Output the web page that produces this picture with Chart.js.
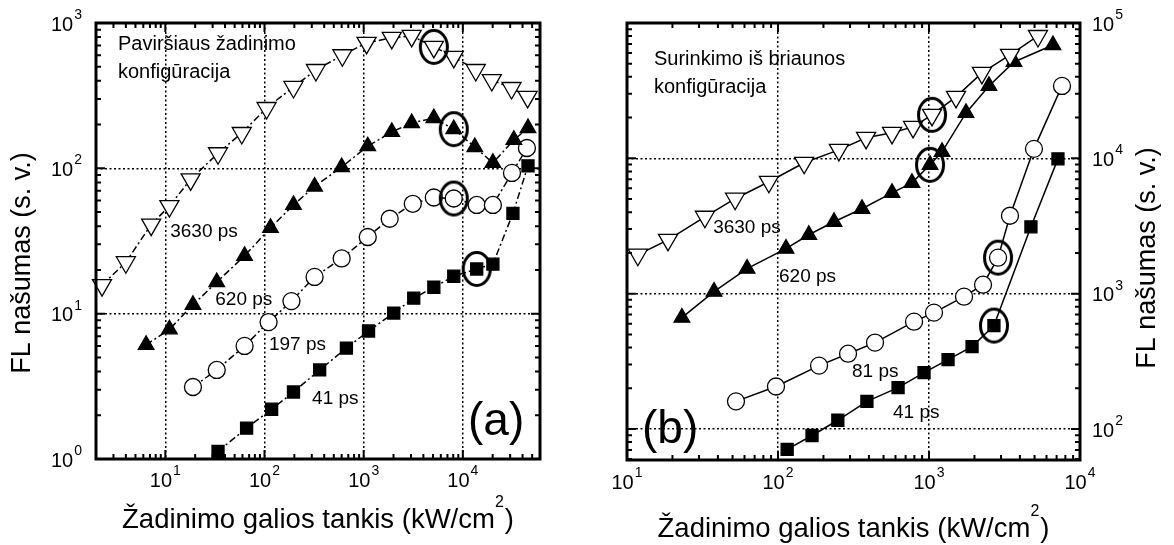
<!DOCTYPE html>
<html>
<head>
<meta charset="utf-8">
<script src="https://cdn.jsdelivr.net/npm/chart.js@4.4.1/dist/chart.umd.min.js"></script>
<style>
  html, body { margin: 0; padding: 0; background: #fff; }
  #wrap { position: relative; width: 1174px; height: 545px; }
  #wrap canvas { position: absolute; left: 0; top: 0; }
</style>
</head>
<body>
<div id="wrap">
  <canvas id="chartA" width="1174" height="545"></canvas>
  <canvas id="chartB" width="1174" height="545"></canvas>
</div>
<script>
// (a) surface excitation – x: excitation power density (kW/cm2), y: FL yield (a.u.)
const a3630x = [2.3, 4.0, 7.2, 11, 18, 34, 59, 105, 196, 330, 610, 1070, 1920, 3050, 5100, 8100, 13500, 19600, 31000, 45000];
const a3630y = [15.7, 22.6, 41, 55, 84, 127, 175, 260, 363, 475, 600, 730, 790, 815, 685, 585, 475, 405, 357, 310];
const a620x  = [6.4, 11, 19, 33, 63, 115, 196, 320, 600, 1100, 1920, 3050, 5100, 8100, 13200, 20100, 32700, 45400];
const a620y  = [6.1, 7.8, 11.5, 16.5, 25, 39, 56, 75, 102, 142, 178, 205, 222, 186, 140, 109, 157, 189];
const a197x  = [19, 33, 63, 110, 187, 320, 600, 1100, 1830, 3130, 5100, 8100, 13800, 20100, 31300, 44300];
const a197y  = [3.13, 4.1, 6.0, 8.75, 12.2, 17.9, 24, 33.7, 45, 57, 63, 62, 56, 56, 93, 138];
const a41x   = [34, 66, 118, 196, 360, 670, 1120, 2010, 3200, 5100, 8100, 13800, 20100, 32000, 45400];
const a41y   = [1.13, 1.63, 2.2, 2.89, 4.1, 5.8, 7.6, 10.1, 12.8, 15.2, 18.1, 20.3, 21.9, 49, 104];
const aMarked = { t3630: 14, t620: 13, t197: 11, t41: 11 };   // circled points

// (b) edge collection
const b3630x = [11.8, 18.7, 32.8, 52, 87, 149, 253, 383, 569, 784, 1047, 1510, 2240, 3440, 5270];
const b3630y = [1940, 2500, 3700, 5030, 6710, 9270, 11550, 14170, 15430, 17080, 20960, 28440, 42760, 58070, 80170];
const b620x  = [23.1, 37.7, 62.4, 113, 160, 235, 360, 569, 771, 1016, 1220, 1758, 2495, 3655, 6620];
const b620y  = [665, 1035, 1530, 2150, 2725, 3400, 4240, 5560, 6590, 8950, 11170, 21660, 34290, 51550, 68800];
const b81x   = [52.7, 97, 187, 291, 439, 796, 1079, 1706, 2279, 2866, 3438, 4955, 7600];
const b81y   = [160, 206, 294, 360, 435, 621, 724, 950, 1165, 1845, 3765, 11750, 34290];
const b41x   = [115, 168, 249, 388, 624, 927, 1337, 1928, 2692, 4732, 7145];
const b41y   = [70.6, 89.5, 116, 160, 202, 261, 326, 406, 581, 3120, 9910];
const bMarked = { t3630: 10, t620: 9, t81: 9, t41: 8 };

const FONT = "'Liberation Sans', Arial, sans-serif";
const xTitle = 'Žadinimo galios tankis (kW/cm';
const yTitle = 'FL našumas (s. v.)';

// ellipse used as point style for the circled points
const ring = document.createElement('canvas');
ring.width = 32; ring.height = 38;
(function () {
  const c = ring.getContext('2d');
  c.lineWidth = 3;
  c.strokeStyle = '#000';
  c.beginPath();
  c.ellipse(16, 19, 13.5, 16.5, 0, 0, Math.PI * 2);
  c.stroke();
})();

const pts = (xs, ys) => xs.map((v, i) => ({ x: v, y: ys[i] }));

const DOWN = { shape: 'triangle', rot: 180, r: 11, fill: '#fff' };
const UP   = { shape: 'triangle', rot: 0, r: 9, fill: '#000' };
const CIRC = { shape: 'circle', rot: 0, r: 8.5, fill: '#fff' };
const SQR  = { shape: 'rect', rot: 0, r: 8.5, fill: '#000' };

function series(xs, ys, st, dash) {
  return {
    data: pts(xs, ys),
    showLine: true,
    borderColor: '#000',
    borderWidth: 1.5,
    borderDash: dash,
    pointStyle: st.shape,
    rotation: st.rot,
    pointRadius: st.r,
    pointBackgroundColor: st.fill,
    pointBorderColor: '#000',
    pointBorderWidth: 1.3,
    clip: false
  };
}

function rings(list) {
  return { data: list, showLine: false, pointStyle: ring, pointRadius: 15, clip: false };
}

function decadeTicks(axis) {
  const lo = Math.ceil(Math.log10(axis.min) - 1e-9), hi = Math.floor(Math.log10(axis.max) + 1e-9);
  const t = [];
  for (let k = lo; k <= hi; k++) t.push({ value: Math.pow(10, k) });
  axis.ticks = t;
}

function logAxis(min, max) {
  return {
    type: 'logarithmic', min, max,
    afterBuildTicks: decadeTicks,
    afterFit: s => { if (s.isHorizontal()) s.height = 0; else s.width = 0; },
    ticks: { display: false },
    grid: { color: '#000', lineWidth: 1.5, drawTicks: false },
    border: { display: false, dash: [2, 2.5] }
  };
}

function eachLogTick(s, fn) {
  const lo = Math.floor(Math.log10(s.min)), hi = Math.ceil(Math.log10(s.max));
  for (let k = lo; k <= hi; k++) {
    for (let m = 1; m <= 9; m++) {
      const v = m * Math.pow(10, k);
      if (v >= s.min * 0.9999 && v <= s.max * 1.0001) fn(v, m === 1, k);
    }
  }
}

function drawPow(ctx, e, x, y, align) {
  ctx.font = `20px ${FONT}`;
  const wb = ctx.measureText('10').width;
  ctx.font = `14px ${FONT}`;
  const ws = ctx.measureText(String(e)).width;
  const tot = wb + ws + 1;
  const left = align === 'right' ? x - tot : align === 'center' ? x - tot / 2 : x;
  ctx.textAlign = 'left';
  ctx.textBaseline = 'middle';
  ctx.font = `20px ${FONT}`;
  ctx.fillText('10', left, y);
  ctx.textBaseline = 'alphabetic';
  ctx.font = `14px ${FONT}`;
  ctx.fillText(String(e), left + wb + 1, y - 6);
}

const framePlugin = {
  id: 'frame',
  afterDraw(chart, args, o) {
    const { ctx, chartArea: ca, scales: { x, y } } = chart;
    ctx.save();
    ctx.strokeStyle = '#000';
    ctx.fillStyle = '#000';
    ctx.lineWidth = 2;
    ctx.beginPath();
    eachLogTick(x, (v, major) => {
      const px = x.getPixelForValue(v), len = major ? 9 : 5;
      ctx.moveTo(px, ca.bottom); ctx.lineTo(px, ca.bottom - len);
      ctx.moveTo(px, ca.top); ctx.lineTo(px, ca.top + len);
    });
    eachLogTick(y, (v, major) => {
      const py = y.getPixelForValue(v), len = major ? 9 : 5;
      ctx.moveTo(ca.left, py); ctx.lineTo(ca.left + len, py);
      ctx.moveTo(ca.right, py); ctx.lineTo(ca.right - len, py);
    });
    ctx.stroke();
    ctx.lineWidth = 3;
    ctx.strokeRect(ca.left, ca.top, ca.width, ca.height);

    // tick labels
    eachLogTick(x, (v, major, k) => {
      if (major) drawPow(ctx, k, x.getPixelForValue(v), ca.bottom + o.xLabelGap, 'center');
    });
    eachLogTick(y, (v, major, k) => {
      if (!major) return;
      const py = y.getPixelForValue(v) + 2;
      if (o.right) drawPow(ctx, k, ca.right + 12, py, 'left');
      else drawPow(ctx, k, ca.left - 14, py, 'right');
    });

    // x title with superscript 2
    ctx.textBaseline = 'alphabetic';
    ctx.textAlign = 'left';
    ctx.font = `27.5px ${FONT}`;
    const w1 = ctx.measureText(xTitle).width, w3 = ctx.measureText(')').width;
    ctx.font = `16px ${FONT}`;
    const w2 = ctx.measureText('2').width;
    let tx = (ca.left + ca.right) / 2 - (w1 + w2 + w3 + 1) / 2;
    const ty = ca.bottom + o.xTitleGap;
    ctx.font = `27.5px ${FONT}`;
    ctx.fillText(xTitle, tx, ty);
    ctx.font = `16px ${FONT}`;
    ctx.fillText('2', tx + w1, ty - 21);
    ctx.font = `27.5px ${FONT}`;
    ctx.fillText(')', tx + w1 + w2 + 1, ty);

    // y title, rotated
    ctx.save();
    ctx.translate(o.yTitleX, o.yTitleY);
    ctx.rotate(-Math.PI / 2);
    ctx.textAlign = 'center';
    ctx.textBaseline = 'middle';
    ctx.font = `27px ${FONT}`;
    ctx.fillText(yTitle, 0, 0);
    ctx.restore();

    // panel heading and letter
    ctx.textAlign = 'left';
    ctx.textBaseline = 'alphabetic';
    ctx.font = `20px ${FONT}`;
    o.heading.forEach((t, i) => ctx.fillText(t, ca.left + o.headX, ca.top + o.headY + i * 28));
    ctx.font = `46px ${FONT}`;
    ctx.fillText(o.letter, ca.left + o.letterX, ca.bottom - o.letterY);

    // series labels, anchored in data units
    ctx.font = `19px ${FONT}`;
    o.labels.forEach(l => ctx.fillText(l.text, x.getPixelForValue(l.x), y.getPixelForValue(l.y)));
    ctx.restore();
  }
};

function makeChart(id, datasets, xr, yr, pad, frame) {
  return new Chart(document.getElementById(id), {
    type: 'scatter',
    data: { datasets },
    options: {
      responsive: false,
      devicePixelRatio: 1,
      animation: false,
      events: [],
      layout: { padding: pad },
      scales: { x: logAxis(xr[0], xr[1]), y: logAxis(yr[0], yr[1]) },
      plugins: { legend: { display: false }, tooltip: { enabled: false }, frame }
    },
    plugins: [framePlugin]
  });
}

const dashA = [7, 3, 2, 3];

makeChart('chartA', [
  rings([
    { x: a3630x[aMarked.t3630], y: a3630y[aMarked.t3630] },
    { x: a620x[aMarked.t620], y: a620y[aMarked.t620] },
    { x: a197x[aMarked.t197], y: a197y[aMarked.t197] },
    { x: a41x[aMarked.t41], y: a41y[aMarked.t41] }
  ]),
  series(a3630x, a3630y, DOWN, dashA),
  series(a620x, a620y, UP, dashA),
  series(a197x, a197y, CIRC, dashA),
  series(a41x, a41y, SQR, dashA)
], [2, 60000], [1, 1000], { left: 96, top: 23, right: 634, bottom: 86 }, {
  right: false, xLabelGap: 22, xTitleGap: 69, yTitleX: 23, yTitleY: 263,
  heading: ['Paviršiaus žadinimo', 'konfigūracija'], headX: 22, headY: 27,
  letter: '(a)', letterX: 372, letterY: 24,
  labels: [
    { text: '3630 ps', x: 11.2, y: 33.7 },
    { text: '620 ps', x: 31.9, y: 11.5 },
    { text: '197 ps', x: 111, y: 5.6 },
    { text: '41 ps', x: 302, y: 2.39 }
  ]
});

makeChart('chartB', [
  rings([
    { x: b3630x[bMarked.t3630], y: b3630y[bMarked.t3630] },
    { x: b620x[bMarked.t620], y: b620y[bMarked.t620] },
    { x: b81x[bMarked.t81], y: b81y[bMarked.t81] },
    { x: b41x[bMarked.t41], y: b41y[bMarked.t41] }
  ]),
  series(b3630x, b3630y, DOWN, []),
  series(b620x, b620y, UP, []),
  series(b81x, b81y, CIRC, []),
  series(b41x, b41y, SQR, [])
], [10, 10000], [59, 100000], { left: 627, top: 23, right: 94, bottom: 85 }, {
  right: true, xLabelGap: 23, xTitleGap: 77, yTitleX: 1148, yTitleY: 258,
  heading: ['Surinkimo iš briaunos', 'konfigūracija'], headX: 27, headY: 42,
  letter: '(b)', letterX: 15, letterY: 17,
  labels: [
    { text: '3630 ps', x: 37.2, y: 2806 },
    { text: '620 ps', x: 101.6, y: 1219 },
    { text: '81 ps', x: 309, y: 242 },
    { text: '41 ps', x: 578, y: 120 }
  ]
});
</script>
</body>
</html>
